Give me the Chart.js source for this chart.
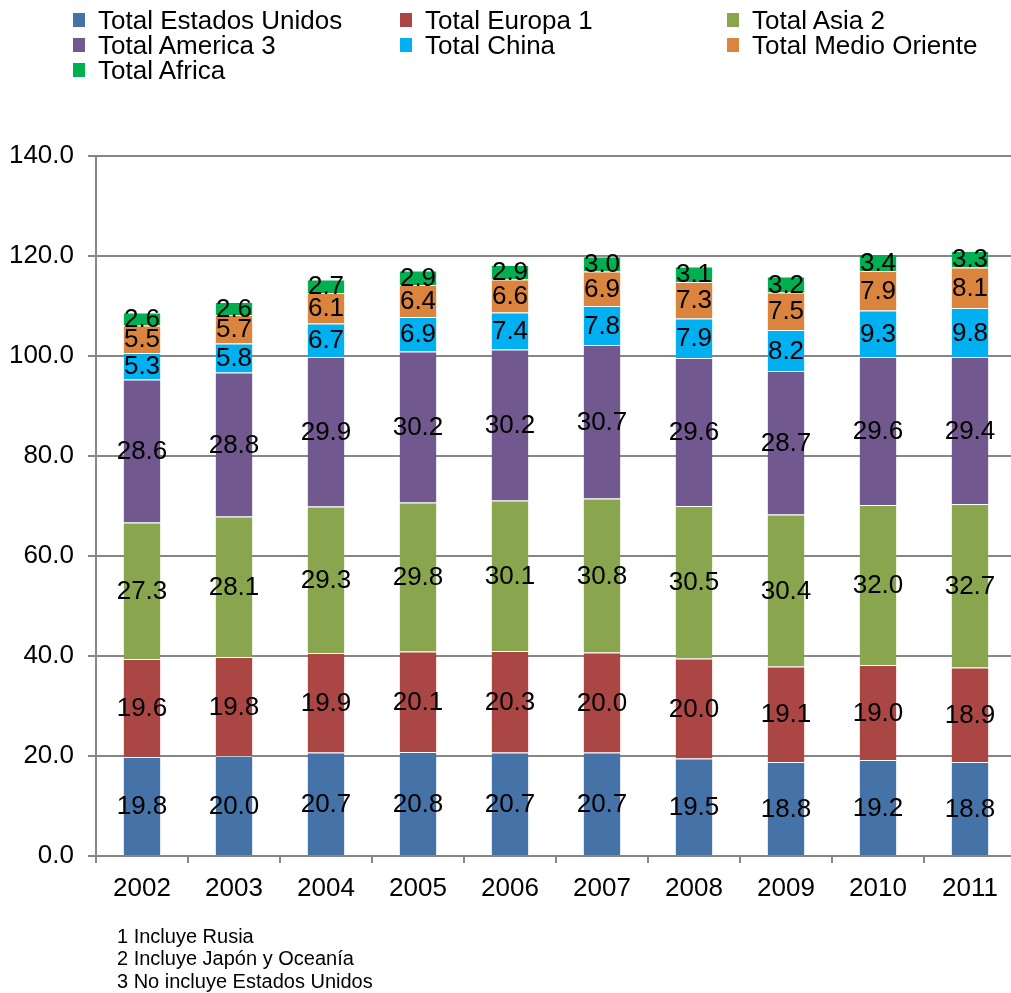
<!DOCTYPE html>
<html>
<head>
<meta charset="utf-8">
<script src="https://cdn.jsdelivr.net/npm/chart.js@4"></script>
<style>
  html, body { margin: 0; padding: 0; background: #fff; overflow: hidden; }
  body { width: 1011px; height: 993px; position: relative; font-family: "Liberation Sans", Arial, sans-serif; }
  #wrap { position: absolute; left: 0; top: 0; width: 1016px; height: 993px; }
  .leg { position: absolute; font-size: 26px; color: #000; line-height: 26px; white-space: nowrap; }
  .leg span { position: absolute; left: -25px; top: 6px; width: 12px; height: 14px; }
  .note { position: absolute; left: 117px; font-size: 20px; line-height: 22px; color: #000; white-space: nowrap; }
</style>
</head>
<body>
<div id="wrap"><canvas id="chart" width="1016" height="993"></canvas></div>
<div id="legend"></div>
<div class="note" style="top:925px">1 Incluye Rusia</div>
<div class="note" style="top:947px">2 Incluye Japón y Oceanía</div>
<div class="note" style="top:970px">3 No incluye Estados Unidos</div>
<script>
const years = ["2002", "2003", "2004", "2005", "2006", "2007", "2008", "2009", "2010", "2011"];
const yTicks = [0, 20, 40, 60, 80, 100, 120, 140];

const estadosUnidos = [19.8, 20.0, 20.7, 20.8, 20.7, 20.7, 19.5, 18.8, 19.2, 18.8];
const europa = [19.6, 19.8, 19.9, 20.1, 20.3, 20.0, 20.0, 19.1, 19.0, 18.9];
const asia = [27.3, 28.1, 29.3, 29.8, 30.1, 30.8, 30.5, 30.4, 32.0, 32.7];
const america = [28.6, 28.8, 29.9, 30.2, 30.2, 30.7, 29.6, 28.7, 29.6, 29.4];
const china = [5.3, 5.8, 6.7, 6.9, 7.4, 7.8, 7.9, 8.2, 9.3, 9.8];
const medioOriente = [5.5, 5.7, 6.1, 6.4, 6.6, 6.9, 7.3, 7.5, 7.9, 8.1];
const africa = [2.6, 2.6, 2.7, 2.9, 2.9, 3.0, 3.1, 3.2, 3.4, 3.3];

const series = [
  { label: "Total Estados Unidos", data: estadosUnidos, color: "#4572A7" },
  { label: "Total Europa 1", data: europa, color: "#AA4643" },
  { label: "Total Asia 2", data: asia, color: "#89A54E" },
  { label: "Total America 3", data: america, color: "#71588F" },
  { label: "Total China", data: china, color: "#00B0F0" },
  { label: "Total Medio Oriente", data: medioOriente, color: "#DB843D" },
  { label: "Total Africa", data: africa, color: "#00B050" }
];

const font = '"Liberation Sans", Arial, sans-serif';

// legend in three columns above the plot
const legPos = [[98, 7], [425, 7], [752, 7], [98, 32], [425, 32], [752, 32], [98, 57]];
const legend = document.getElementById("legend");
series.forEach((s, i) => {
  const d = document.createElement("div");
  d.className = "leg";
  d.style.left = legPos[i][0] + "px";
  d.style.top = legPos[i][1] + "px";
  d.innerHTML = '<span style="background:' + s.color + '"></span>' + s.label;
  legend.appendChild(d);
});

// value written in the middle of each segment
const segmentLabels = {
  id: "segmentLabels",
  afterDatasetsDraw(chart) {
    const ctx = chart.ctx;
    ctx.save();
    ctx.font = "26px " + font;
    ctx.fillStyle = "#000";
    ctx.textAlign = "center";
    ctx.textBaseline = "middle";
    chart.data.datasets.forEach((ds, di) => {
      const meta = chart.getDatasetMeta(di);
      meta.data.forEach((bar, i) => {
        const y = (bar.y + bar.base) / 2;
        ctx.fillText(ds.data[i].toFixed(1), bar.x, y + 1);
      });
    });
    ctx.restore();
  }
};

new Chart(document.getElementById("chart"), {
  type: "bar",
  data: {
    labels: years,
    datasets: series.map(s => ({
      label: s.label,
      data: s.data,
      backgroundColor: s.color,
      borderColor: "rgba(255,255,255,0.5)",
      borderWidth: { top: 1 },
      borderSkipped: false,
      categoryPercentage: 1,
      barPercentage: 0.4
    }))
  },
  options: {
    responsive: false,
    animation: false,
    layout: { padding: { top: 156, bottom: 81, left: 0, right: 0 } },
    plugins: { legend: { display: false }, tooltip: { enabled: false } },
    scales: {
      x: {
        stacked: true,
        afterFit: s => { s.height = 56; },
        grid: { offset: true, drawOnChartArea: false, color: "#868686", lineWidth: 2, tickLength: 7 },
        border: { color: "#868686", width: 2 },
        ticks: { color: "#000", font: { family: font, size: 26 }, padding: 10 }
      },
      y: {
        stacked: true,
        min: 0,
        max: 140,
        afterFit: s => { s.width = 96; },
        afterBuildTicks: s => { s.ticks = yTicks.map(v => ({ value: v })); },
        grid: { color: "#868686", lineWidth: 2, tickLength: 8 },
        border: { color: "#868686", width: 2 },
        ticks: {
          color: "#000",
          font: { family: font, size: 26 },
          padding: 14,
          callback: v => v.toFixed(1)
        }
      }
    }
  },
  plugins: [segmentLabels]
});
</script>
</body>
</html>
